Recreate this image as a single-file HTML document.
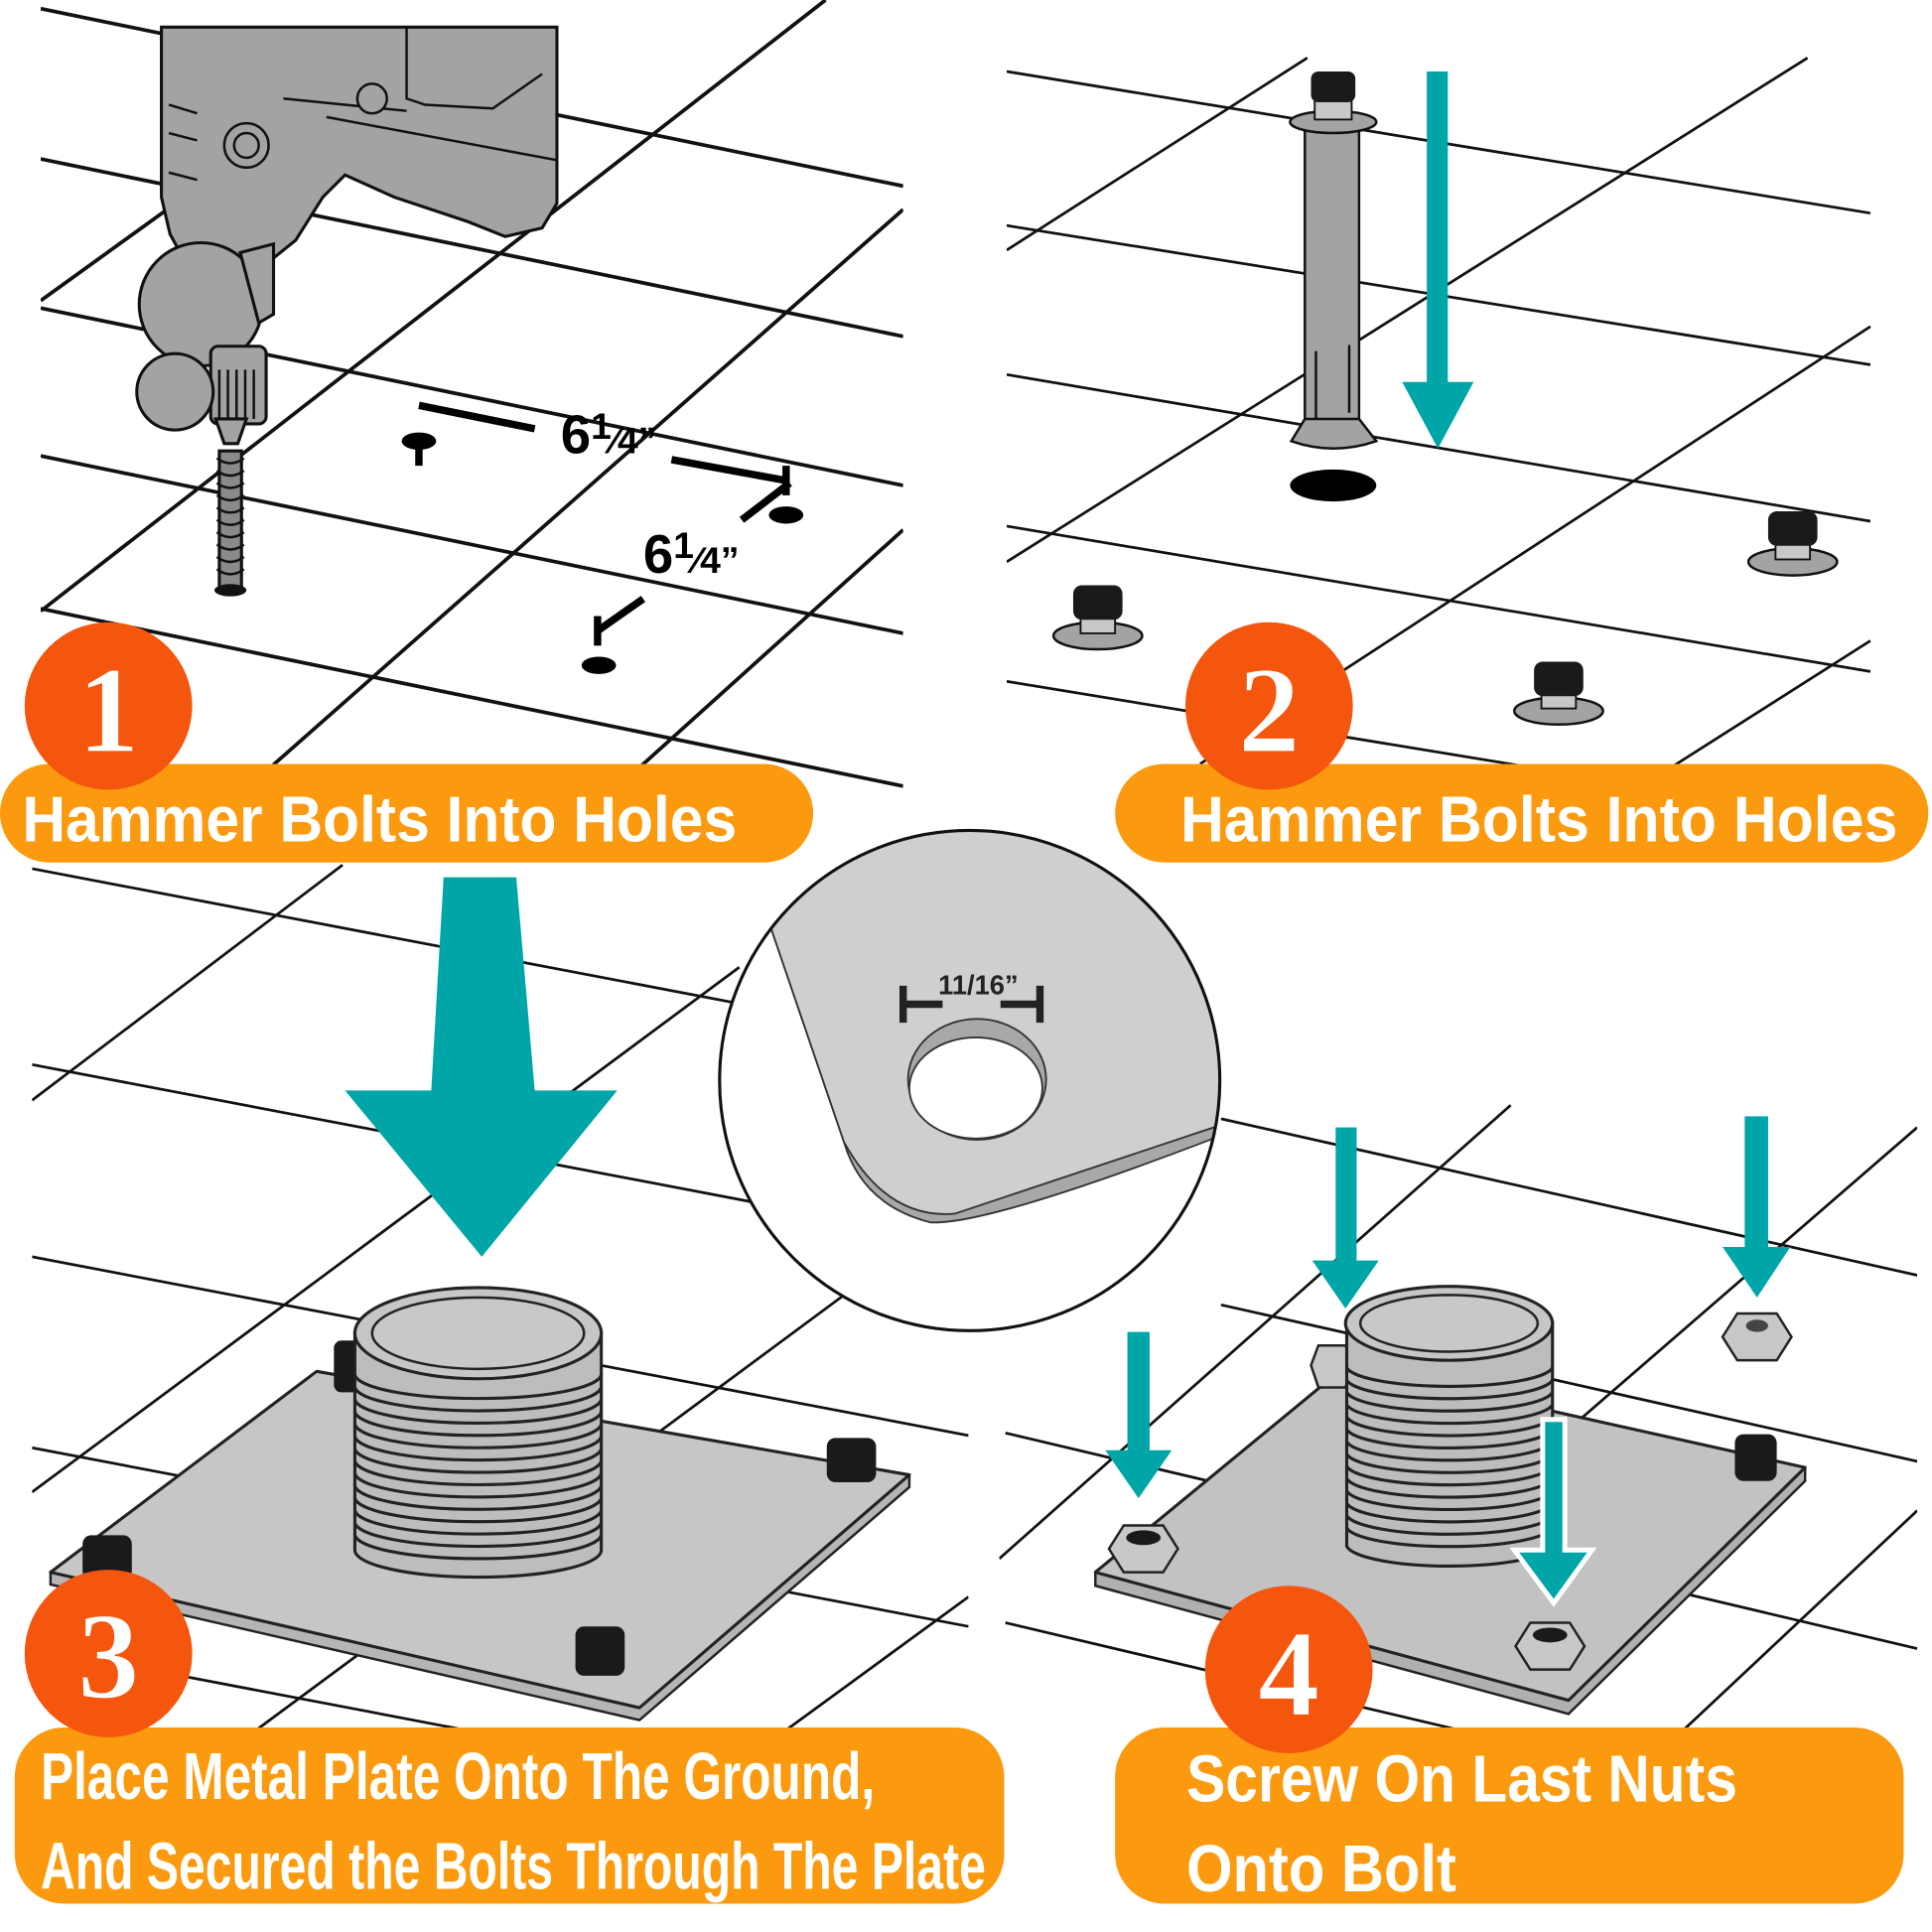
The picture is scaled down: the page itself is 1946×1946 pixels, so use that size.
<!DOCTYPE html>
<html><head><meta charset="utf-8"><style>
html,body{margin:0;padding:0;background:#fff;}
svg{display:block;}
.t{font-family:"Liberation Sans Narrow","Liberation Sans",sans-serif;font-weight:bold;fill:#fff;}
.g{stroke:#111;stroke-width:3;fill:none;}
.g2{stroke:#111;stroke-width:2.2;fill:none;}
</style></head><body>
<svg width="1946" height="1946" viewBox="0 0 1568 1568" xmlns="http://www.w3.org/2000/svg">
<defs>
<clipPath id="c1"><rect x="33" y="0" width="700" height="640"/></clipPath>
<clipPath id="c2"><rect x="817" y="40" width="702" height="590"/></clipPath>
<clipPath id="c3"><rect x="26" y="700" width="760" height="710"/></clipPath>
<clipPath id="c4"><rect x="811" y="880" width="745" height="530"/></clipPath>
<clipPath id="ci"><circle cx="787" cy="877" r="203"/></clipPath>
</defs>
<rect width="1568" height="1568" fill="#fff"/>

<!-- Q1 grid -->
<g clip-path="url(#c1)" class="g">
<line x1="33" y1="7" x2="733" y2="151"/>
<line x1="33" y1="129" x2="733" y2="273"/>
<line x1="33" y1="250" x2="733" y2="394"/>
<line x1="33" y1="370" x2="733" y2="514"/>
<line x1="33" y1="494" x2="733" y2="638"/>
<line x1="33" y1="496" x2="670" y2="0"/>
<line x1="33" y1="244" x2="330" y2="30"/>
<line x1="200" y1="640" x2="733" y2="170"/>
<line x1="500" y1="640" x2="733" y2="430"/>
</g>
<!-- drill -->
<g stroke="#111" stroke-width="2.5" fill="#a3a3a3">
<path d="M131,22 L452,22 L452,165 L440,185 L410,192 L380,180 L320,160 L280,142 L262,160 L240,195 L215,215 L150,212 L138,190 L131,160 Z"/>
<circle cx="163" cy="247" r="50"/>
<path d="M195,205 L222,198 L222,255 L210,262 Z"/>
<rect x="171" y="281" width="45" height="63" rx="6"/>
<circle cx="142" cy="318" r="31"/>
<path d="M175,340 L200,340 L193,360 L182,360 Z"/>
</g>
<g stroke="#111" stroke-width="2" fill="none">
<circle cx="200" cy="118" r="18"/><circle cx="200" cy="118" r="10"/>
<path d="M137,85 L160,92 M137,108 L160,114 M137,140 L160,146"/>
<path d="M230,80 L330,90 M265,95 L452,130 M330,22 L330,80 L345,85 L400,88 L440,60"/>
<circle cx="302" cy="80" r="12" fill="#a3a3a3"/>
<path d="M178,300 L178,340 M185,300 L185,340 M192,300 L192,340 M199,300 L199,340 M206,300 L206,340"/>
</g>
<g stroke="#111" stroke-width="2.5" fill="#8a8a8a">
<path d="M178,366 L196,366 L196,478 L178,478 Z"/>
</g>
<g stroke="#111" stroke-width="2" fill="none">
<path d="M176,372 Q187,380 198,372 M176,382 Q187,390 198,382 M176,392 Q187,400 198,392 M176,402 Q187,410 198,402 M176,412 Q187,420 198,412 M176,422 Q187,430 198,422 M176,432 Q187,440 198,432 M176,442 Q187,450 198,442 M176,452 Q187,460 198,452 M176,462 Q187,470 198,462"/>
</g>
<ellipse cx="187" cy="479" rx="13" ry="5" fill="#111"/>
<!-- dims Q1 -->
<g stroke="#000" stroke-width="6" fill="none">
<line x1="340" y1="329" x2="434" y2="348"/>
<line x1="340" y1="360" x2="340" y2="378"/>
<line x1="545" y1="373" x2="638" y2="390"/>
<line x1="638" y1="378" x2="638" y2="402"/>
<line x1="602" y1="422" x2="641" y2="392"/>
<line x1="522" y1="486" x2="485" y2="512"/>
<line x1="485" y1="500" x2="485" y2="524"/>
</g>
<ellipse cx="340" cy="358" rx="14" ry="7" fill="#000"/>
<ellipse cx="638" cy="418" rx="14" ry="7" fill="#000"/>
<ellipse cx="486" cy="540" rx="14" ry="7" fill="#000"/>
<text x="455" y="368" font-family="Liberation Sans Narrow,Liberation Sans,sans-serif" font-weight="bold" font-size="44" fill="#000">6<tspan font-size="30" dy="-12">1</tspan><tspan font-size="30" dy="12">⁄4”</tspan></text>
<text x="522" y="465" font-family="Liberation Sans Narrow,Liberation Sans,sans-serif" font-weight="bold" font-size="44" fill="#000">6<tspan font-size="30" dy="-12">1</tspan><tspan font-size="30" dy="12">⁄4”</tspan></text>

<!-- Q2 grid -->
<g clip-path="url(#c2)" class="g2">
<line x1="817" y1="58" x2="1518" y2="173"/>
<line x1="817" y1="183" x2="1518" y2="296"/>
<line x1="817" y1="304" x2="1518" y2="423"/>
<line x1="817" y1="427" x2="1518" y2="545"/>
<line x1="817" y1="553" x2="1518" y2="668"/>
<line x1="1061" y1="47" x2="817" y2="203"/>
<line x1="1467" y1="47" x2="817" y2="456"/>
<line x1="1518" y1="265" x2="974" y2="620"/>
<line x1="1518" y1="520" x2="1345" y2="630"/>
</g>
<!-- big bolt -->
<rect x="1059" y="99" width="44" height="245" fill="#a3a3a3" stroke="#111" stroke-width="2"/>
<path d="M1059,340 L1048,358 Q1082,370 1117,358 L1103,340 Z" fill="#a3a3a3" stroke="#111" stroke-width="2"/>
<path d="M1068,285 L1068,340 M1095,280 L1095,335" stroke="#111" stroke-width="2"/>
<ellipse cx="1082" cy="99" rx="35" ry="9" fill="#a3a3a3" stroke="#111" stroke-width="2"/>
<rect x="1067" y="75" width="30" height="22" fill="#c8c8c8" stroke="#111" stroke-width="1.5"/>
<rect x="1064" y="58" width="36" height="25" rx="6" fill="#1a1a1a"/>
<ellipse cx="1082" cy="394" rx="35" ry="13" fill="#000"/>
<rect x="1158" y="58" width="17" height="255" fill="#00a5a8"/>
<polygon points="1138,310 1196,310 1167,364" fill="#00a5a8"/>
<!-- small bolts -->
<g>
<ellipse cx="891" cy="516" rx="36" ry="11" fill="#a3a3a3" stroke="#111" stroke-width="2"/>
<rect x="877" y="498" width="28" height="16" fill="#c8c8c8" stroke="#111" stroke-width="1.5"/>
<rect x="871" y="475" width="40" height="28" rx="7" fill="#1a1a1a"/>
<ellipse cx="1265" cy="577" rx="36" ry="11" fill="#a3a3a3" stroke="#111" stroke-width="2"/>
<rect x="1251" y="559" width="28" height="16" fill="#c8c8c8" stroke="#111" stroke-width="1.5"/>
<rect x="1245" y="537" width="40" height="28" rx="7" fill="#1a1a1a"/>
<ellipse cx="1455" cy="456" rx="36" ry="11" fill="#a3a3a3" stroke="#111" stroke-width="2"/>
<rect x="1441" y="438" width="28" height="16" fill="#c8c8c8" stroke="#111" stroke-width="1.5"/>
<rect x="1435" y="415" width="40" height="28" rx="7" fill="#1a1a1a"/>
</g>

<!-- Q3 grid -->
<g clip-path="url(#c3)" class="g2">
<line x1="26" y1="705" x2="786" y2="850"/>
<line x1="26" y1="864" x2="786" y2="1009"/>
<line x1="26" y1="1020" x2="786" y2="1165"/>
<line x1="26" y1="1175" x2="786" y2="1320"/>
<line x1="26" y1="1337" x2="786" y2="1482"/>
<line x1="278" y1="702" x2="26" y2="893"/>
<line x1="600" y1="785" x2="26" y2="1211"/>
<line x1="700" y1="1040" x2="200" y2="1410"/>
<line x1="786" y1="1296" x2="630" y2="1410"/>
</g>
<!-- big arrow -->
<polygon points="360,712 419,712 434,885 501,885 391,1020 280,885 350,885" fill="#00a5a8"/>
<!-- plate Q3 -->
<path d="M41,1276 L41,1286 L519,1396 L738,1207 L738,1197 Z" fill="#b5b5b5" stroke="#222" stroke-width="2"/>
<path d="M257,1113 L738,1197 L519,1386 L41,1276 Z" fill="#c6c6c6" stroke="#222" stroke-width="2.5" stroke-linejoin="round"/>
<rect x="271" y="1088" width="26" height="42" rx="6" fill="#1a1a1a"/>
<rect x="67" y="1246" width="40" height="36" rx="7" fill="#1a1a1a"/>
<rect x="671" y="1167" width="40" height="36" rx="7" fill="#1a1a1a"/>
<rect x="467" y="1320" width="40" height="40" rx="7" fill="#1a1a1a"/>
<path d="M288,1082 L288,1258 A100,22 0 0 0 488,1258 L488,1082 Z" fill="#bdbdbd" stroke="#222" stroke-width="2.5"/>
<g fill="none" stroke="#222" stroke-width="2.5">
<path d="M288,1115 A100,20 0 0 0 488,1115 M288,1125 A100,20 0 0 0 488,1125 M288,1135 A100,20 0 0 0 488,1135 M288,1145 A100,20 0 0 0 488,1145 M288,1155 A100,20 0 0 0 488,1155 M288,1165 A100,20 0 0 0 488,1165 M288,1175 A100,20 0 0 0 488,1175 M288,1185 A100,20 0 0 0 488,1185 M288,1195 A100,20 0 0 0 488,1195 M288,1205 A100,20 0 0 0 488,1205 M288,1215 A100,20 0 0 0 488,1215 M288,1225 A100,20 0 0 0 488,1225 M288,1235 A100,20 0 0 0 488,1235 M288,1245 A100,20 0 0 0 488,1245"/>
</g>
<ellipse cx="388" cy="1082" rx="100" ry="37" fill="#c6c6c6" stroke="#222" stroke-width="2.5"/>
<ellipse cx="388" cy="1082" rx="86" ry="29" fill="#c8c8c8" stroke="#222" stroke-width="2"/>

<!-- Q4 grid -->
<g clip-path="url(#c4)" class="g2">
<line x1="991" y1="908" x2="1556" y2="1035"/>
<line x1="991" y1="1059" x2="1556" y2="1186"/>
<line x1="816" y1="1163" x2="1556" y2="1338"/>
<line x1="816" y1="1317" x2="1556" y2="1492"/>
<line x1="1226" y1="897" x2="811" y2="1265"/>
<line x1="1556" y1="915" x2="1250" y2="1180"/>
<line x1="1556" y1="1226" x2="1360" y2="1410"/>
</g>
<!-- plate Q4 -->
<path d="M889,1276 L889,1287 L1273,1391 L1465,1202 L1465,1191 Z" fill="#b0b0b0" stroke="#222" stroke-width="2"/>
<path d="M1093,1108 L1465,1191 L1273,1380 L889,1276 Z" fill="#c2c2c2" stroke="#222" stroke-width="2.5" stroke-linejoin="round"/>
<polygon points="1070,1092 1092,1092 1098,1108 1092,1126 1070,1126 1064,1108" fill="#c8c8c8" stroke="#222" stroke-width="2"/>
<rect x="1408" y="1164" width="34" height="38" rx="7" fill="#1a1a1a"/>
<path d="M1093,1074 L1093,1255 A84,18 0 0 0 1260,1255 L1260,1074 Z" fill="#bdbdbd" stroke="#222" stroke-width="2.5"/>
<g fill="none" stroke="#222" stroke-width="2.5">
<path d="M1093,1110 A84,17 0 0 0 1260,1110 M1093,1120 A84,17 0 0 0 1260,1120 M1093,1130 A84,17 0 0 0 1260,1130 M1093,1140 A84,17 0 0 0 1260,1140 M1093,1150 A84,17 0 0 0 1260,1150 M1093,1160 A84,17 0 0 0 1260,1160 M1093,1170 A84,17 0 0 0 1260,1170 M1093,1180 A84,17 0 0 0 1260,1180 M1093,1190 A84,17 0 0 0 1260,1190 M1093,1200 A84,17 0 0 0 1260,1200 M1093,1210 A84,17 0 0 0 1260,1210 M1093,1220 A84,17 0 0 0 1260,1220 M1093,1230 A84,17 0 0 0 1260,1230 M1093,1240 A84,17 0 0 0 1260,1240"/>
</g>
<ellipse cx="1176" cy="1074" rx="84" ry="30" fill="#c6c6c6" stroke="#222" stroke-width="2.5"/>
<ellipse cx="1176" cy="1074" rx="72" ry="23" fill="#c8c8c8" stroke="#222" stroke-width="2"/>
<g fill="#c8c8c8" stroke="#222" stroke-width="2">
<polygon points="912,1238 944,1238 956,1257 944,1276 912,1276 900,1257"/>
<polygon points="1242,1317 1274,1317 1286,1336 1274,1355 1242,1355 1230,1336"/>
<polygon points="1410,1066 1442,1066 1454,1085 1442,1104 1410,1104 1398,1085"/>
</g>
<ellipse cx="928" cy="1248" rx="14" ry="6" fill="#1a1a1a"/>
<ellipse cx="1258" cy="1327" rx="14" ry="6" fill="#1a1a1a"/>
<ellipse cx="1426" cy="1076" rx="9" ry="5" fill="#444"/>
<!-- Q4 arrows -->
<g fill="#00a5a8">
<rect x="915" y="1081" width="18" height="98"/><polygon points="897,1177 951,1177 924,1216"/>
<rect x="1084" y="915" width="17" height="110"/><polygon points="1065,1023 1119,1023 1092,1062"/>
<rect x="1416" y="906" width="19" height="108"/><polygon points="1398,1012 1453,1012 1426,1053"/>
<path d="M1252,1152 L1270,1152 L1270,1258 L1292,1258 L1261,1301 L1229,1258 L1252,1258 Z" stroke="#fff" stroke-width="4"/>
</g>

<!-- inset circle -->
<circle cx="787" cy="877" r="203" fill="#fff"/>
<g clip-path="url(#ci)">
<path d="M615,720 L627,757 L685,927 Q700,978 755,992 Q800,995 990,922 L990,915 Z" fill="#a8a8a8" stroke="#333" stroke-width="1.5"/>
<path d="M560,600 L1000,600 L1000,915 L985,915 L775,985 Q720,990 685,927 L627,757 L600,670 Z" fill="#cfcfcf" stroke="#333" stroke-width="1.5"/>
<ellipse cx="793" cy="876" rx="56" ry="49" fill="#a8a8a8" stroke="#333" stroke-width="1.5"/>
<ellipse cx="792" cy="883" rx="54" ry="41" fill="#fff" stroke="#333" stroke-width="1.5"/>
</g>
<circle cx="787" cy="877" r="203" fill="none" stroke="#111" stroke-width="2.5"/>
<g stroke="#222" stroke-width="6" fill="none">
<line x1="733" y1="800" x2="733" y2="830"/><line x1="733" y1="815" x2="765" y2="815"/>
<line x1="844" y1="800" x2="844" y2="830"/><line x1="812" y1="815" x2="844" y2="815"/>
</g>
<text x="794" y="807" text-anchor="middle" font-family="Liberation Sans Narrow,Liberation Sans,sans-serif" font-weight="bold" font-size="22" fill="#222">11/16”</text>

<!-- banners -->
<g fill="#fb9a0e">
<rect x="0" y="620" width="660" height="80" rx="40"/>
<rect x="905" y="620" width="660" height="80" rx="40"/>
<rect x="12" y="1402" width="803" height="143" rx="40"/>
<rect x="905" y="1402" width="640" height="143" rx="40"/>
</g>
<!-- number circles -->
<g fill="#f4560d">
<circle cx="88" cy="573" r="68"/>
<circle cx="1030" cy="573" r="68"/>
<circle cx="88" cy="1342" r="68"/>
<circle cx="1046" cy="1355" r="68"/>
</g>
<g font-family="Liberation Serif,serif" font-weight="bold" font-size="100" fill="#fff" stroke="#f4560d" stroke-width="1" text-anchor="middle">
<text x="88" y="610">1</text>
<text x="1030" y="610">2</text>
<text x="88" y="1378">3</text>
<text x="1046" y="1392">4</text>
</g>
<text class="t" x="18" y="683" font-size="52" textLength="580" lengthAdjust="spacingAndGlyphs">Hammer Bolts Into Holes</text>
<text class="t" x="958" y="683" font-size="52" textLength="582" lengthAdjust="spacingAndGlyphs">Hammer Bolts Into Holes</text>
<text class="t" x="33" y="1460" font-size="54" textLength="677" lengthAdjust="spacingAndGlyphs">Place Metal Plate Onto The Ground,</text>
<text class="t" x="33" y="1533" font-size="54" textLength="767" lengthAdjust="spacingAndGlyphs">And Secured the Bolts Through The Plate</text>
<text class="t" x="963" y="1462" font-size="54" textLength="447" lengthAdjust="spacingAndGlyphs">Screw On Last Nuts</text>
<text class="t" x="963" y="1535" font-size="54" textLength="219" lengthAdjust="spacingAndGlyphs">Onto Bolt</text>
</svg>
</body></html>
